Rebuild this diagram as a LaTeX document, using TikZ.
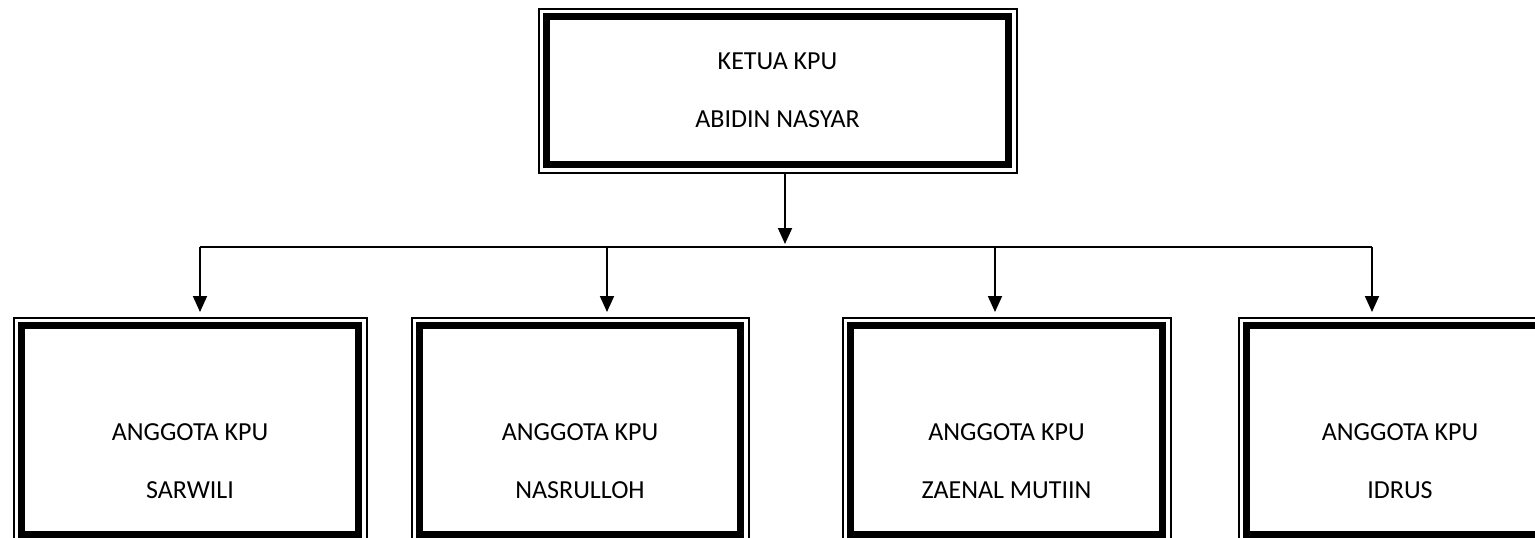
\documentclass[tikz,border=0pt]{standalone}
\usepackage{fontspec}
\setmainfont{Carlito}
\usetikzlibrary{arrows.meta, positioning, calc}

\begin{document}
\begin{tikzpicture}[x=1pt, y=-1pt, >={Triangle[width=14pt,length=16pt]},
  box/.style={rectangle, draw, line width=7pt, inner sep=0pt},
  frame/.style={line width=2pt},
  link/.style={line width=1.8pt},
  txt/.style={font=\fontsize{26}{58}\selectfont, align=center}]
\useasboundingbox (0,0) rectangle (1535,538);

% ketua
\node[box, txt, minimum width=462pt, minimum height=148pt] (ketua) at (777.5,90.5) {KETUA KPU\\ABIDIN NASYAR};

% anggota
\node[box, minimum width=337pt, minimum height=209pt] (sarwili) at (190,430) {};
\node[box, minimum width=321pt, minimum height=209pt] (nasrulloh) at (580,430) {};
\node[box, minimum width=312pt, minimum height=209pt] (zaenal) at (1006.5,430) {};
\node[box, minimum width=307pt, minimum height=209pt] (idrus) at (1400,430) {};

\node[txt] (tsarwili) at ([yshift=-31pt]sarwili.center) {ANGGOTA KPU\\SARWILI};
\node[txt] (tnasrulloh) at ([yshift=-31pt]nasrulloh.center) {ANGGOTA KPU\\NASRULLOH};
\node[txt] (tzaenal) at ([yshift=-31pt]zaenal.center) {ANGGOTA KPU\\ZAENAL MUTIIN};
\node[txt] (tidrus) at ([yshift=-31pt]idrus.center) {ANGGOTA KPU\\IDRUS};

% thin outer frames
\foreach \n in {ketua, sarwili, nasrulloh, zaenal, idrus}
  \draw[frame] ([shift={(-4.5pt,4.5pt)}]\n.north west) rectangle ([shift={(4.5pt,-4.5pt)}]\n.south east);

% bus
\coordinate (hub) at (785,247);
\coordinate (d1) at (200,247);
\coordinate (d2) at (607,247);
\coordinate (d3) at (995,247);
\coordinate (d4) at (1372,247);

\draw[link, ->, shorten <=5pt, shorten >=3pt] (hub |- ketua.south) -- (hub);
\draw[link] (d1) -- (d4);
\foreach \d/\b in {d1/sarwili, d2/nasrulloh, d3/zaenal, d4/idrus}
  \draw[link, ->, shorten >=10pt] (\d) -- (\d |- \b.north);
\end{tikzpicture}
\end{document}
